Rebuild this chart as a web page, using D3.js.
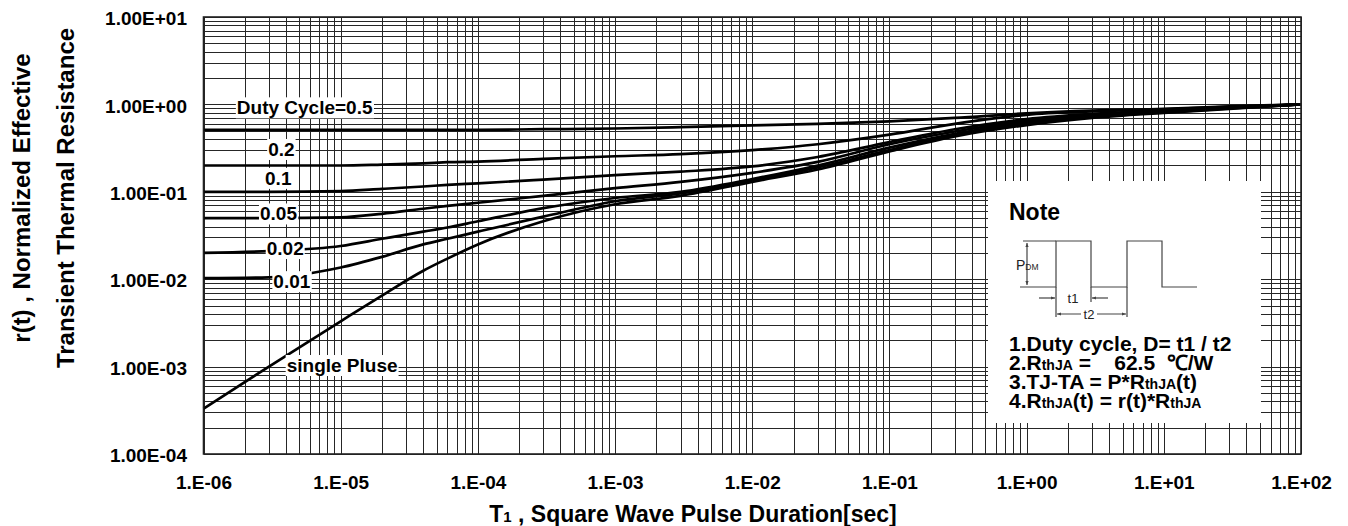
<!DOCTYPE html>
<html>
<head>
<meta charset="utf-8">
<script src="https://cdnjs.cloudflare.com/ajax/libs/d3/7.8.5/d3.min.js"></script>
<style>
html, body { margin: 0; padding: 0; background: #fff; overflow: hidden; }
text { font-family: Arial, "Liberation Sans", Helvetica, sans-serif; }
</style>
</head>
<body>
<svg width="1348" height="526"></svg>
<script>
// pulse duration (sec) where the curves were read
var pulseTimes = [1e-6, 3e-6, 1e-5, 2e-5, 4e-5, 6e-5, 1e-4, 3e-4, 1e-3, 3e-3, 1e-2, 3e-2, 1e-1, 3e-1, 1, 3, 10, 30, 100]
// r(t) for each duty cycle
var duty05  = [0.51, 0.51, 0.51, 0.51, 0.51, 0.51, 0.512, 0.52, 0.53, 0.55, 0.575, 0.60, 0.64, 0.70, 0.79, 0.85, 0.89, 0.95, 1.0]
var duty02  = [0.20, 0.20, 0.20, 0.205, 0.212, 0.218, 0.222, 0.238, 0.255, 0.27, 0.30, 0.35, 0.45, 0.60, 0.76, 0.83, 0.88, 0.94, 1.0]
var duty01  = [0.10, 0.10, 0.102, 0.108, 0.115, 0.12, 0.125, 0.138, 0.155, 0.17, 0.195, 0.25, 0.37, 0.52, 0.68, 0.78, 0.85, 0.92, 1.0]
var duty005 = [0.05, 0.05, 0.051, 0.056, 0.064, 0.069, 0.075, 0.09, 0.11, 0.13, 0.165, 0.22, 0.35, 0.49, 0.65, 0.76, 0.84, 0.91, 1.0]
var duty002 = [0.02, 0.021, 0.024, 0.029, 0.035, 0.039, 0.046, 0.065, 0.085, 0.10, 0.14, 0.20, 0.32, 0.46, 0.62, 0.74, 0.83, 0.91, 1.0]
var duty001 = [0.0103, 0.0105, 0.0136, 0.018, 0.025, 0.029, 0.035, 0.052, 0.078, 0.096, 0.135, 0.19, 0.30, 0.45, 0.60, 0.72, 0.81, 0.90, 1.0]
var singlePulse = [3.3e-4, 1.0e-3, 3.3e-3, 6.5e-3, 0.0125, 0.0172, 0.025, 0.046, 0.072, 0.09, 0.13, 0.18, 0.29, 0.43, 0.58, 0.70, 0.80, 0.89, 1.0]

// curve labels and where they sit (time, level)
var curveLabels = ["Duty Cycle=0.5", "0.2", "0.1", "0.05", "0.02", "0.01", "single Pluse"]
var labelTimes  = [1.75e-6, 2.96e-6, 2.81e-6, 2.58e-6, 2.89e-6, 3.23e-6, 4.04e-6]
var labelLevels = [0.77, 0.257, 0.12, 0.047, 0.0189, 0.0079, 8.67e-4]

// ticks
var xTickValues = [1e-6, 1e-5, 1e-4, 1e-3, 1e-2, 1e-1, 1, 10, 100]
var xTickLabels = ["1.E-06", "1.E-05", "1.E-04", "1.E-03", "1.E-02", "1.E-01", "1.E+00", "1.E+01", "1.E+02"]
var yTickValues = [1e-4, 1e-3, 1e-2, 1e-1, 1, 10]
var yTickLabels = ["1.00E-04", "1.00E-03", "1.00E-02", "1.00E-01", "1.00E+00", "1.00E+01"]

var svg = d3.select("svg")
var plot = {left: 203.5, right: 1301, top: 17, bottom: 454}

var x = d3.scaleLog().domain([1e-6, 1e2]).range([plot.left, plot.right])
var y = d3.scaleLog().domain([1e-4, 1e1]).range([plot.bottom, plot.top])

//Grid, every 1..9 of each decade
var grid = svg.append("g").attr("stroke", "#262626").attr("stroke-width", 1).attr("shape-rendering", "crispEdges")
grid.selectAll(".vx").data(x.ticks()).join("line")
    .attr("x1", d => Math.round(x(d)) + 0.5).attr("x2", d => Math.round(x(d)) + 0.5)
    .attr("y1", plot.top).attr("y2", plot.bottom)
grid.selectAll(".hy").data(y.ticks()).join("line")
    .attr("y1", d => Math.round(y(d)) + 0.5).attr("y2", d => Math.round(y(d)) + 0.5)
    .attr("x1", plot.left).attr("x2", plot.right)

//Curves
var allSeries = [duty05, duty02, duty01, duty005, duty002, duty001, singlePulse]
var line = d3.line()
    .x(d => x(d[0])).y(d => y(d[1]))
    .curve(d3.curveMonotoneX)
svg.append("g").selectAll("path").data(allSeries).join("path")
    .attr("d", s => line(d3.zip(pulseTimes, s)))
    .attr("fill", "none").attr("stroke", "#000").attr("stroke-width", 2.7)
    .attr("stroke-linejoin", "round")

//Curve labels with white backing
var labels = svg.append("g")
curveLabels.forEach(function (txt, i) {
    var g = labels.append("g")
    var t = g.append("text").text(txt)
        .attr("x", x(labelTimes[i])).attr("y", y(labelLevels[i]))
        .attr("font-size", 19).attr("font-weight", "bold")
    var bb = t.node().getBBox()
    g.insert("rect", "text").attr("x", bb.x - 1).attr("y", bb.y).attr("width", bb.width + 2).attr("height", bb.height)
        .attr("fill", "#fff")
})

//Axes
var xAxis = d3.axisBottom(x).tickValues(xTickValues).tickFormat((d, i) => xTickLabels[i]).tickSize(0).tickPadding(22)
svg.append("g").attr("transform", "translate(0," + plot.bottom + ")").call(xAxis)
    .attr("font-size", 19).attr("font-weight", "bold").attr("font-family", null)
    .call(g => g.select(".domain").remove())
var yAxis = d3.axisLeft(y).tickValues(yTickValues).tickFormat((d, i) => yTickLabels[i]).tickSize(0).tickPadding(16.5)
svg.append("g").attr("transform", "translate(" + plot.left + ",0)").call(yAxis)
    .attr("font-size", 19).attr("font-weight", "bold").attr("font-family", null)
    .call(g => g.select(".domain").remove())
    .call(g => g.selectAll("text").attr("dy", "0.4em"))

//Frame
svg.append("rect").attr("x", plot.left).attr("y", plot.top)
    .attr("width", plot.right - plot.left).attr("height", plot.bottom - plot.top)
    .attr("fill", "none").attr("stroke", "#222").attr("stroke-width", 1.6)

//Axis titles
var yTitle = svg.append("g").attr("font-size", 24).attr("font-weight", "bold").attr("text-anchor", "middle")
yTitle.append("text").text("r(t) , Normalized Effective")
    .attr("transform", "translate(30,198) rotate(-90)")
yTitle.append("text").text("Transient Thermal Resistance")
    .attr("transform", "translate(73.5,198) rotate(-90)")
var xTitle = svg.append("text").attr("x", 693).attr("y", 522)
    .attr("font-size", 23).attr("font-weight", "bold").attr("text-anchor", "middle")
xTitle.append("tspan").text("T")
xTitle.append("tspan").text("1").attr("font-size", 15)
xTitle.append("tspan").text(" , Square Wave Pulse Duration[sec]")

//Note box
var note = svg.append("g")
note.append("rect").attr("x", 988).attr("y", 181).attr("width", 273).attr("height", 242).attr("fill", "#fff")
note.append("text").text("Note").attr("x", 1009).attr("y", 220).attr("font-size", 23).attr("font-weight", "bold")

var defs = svg.append("defs")
defs.append("marker").attr("id", "arr").attr("viewBox", "0 0 10 10").attr("refX", 10).attr("refY", 5)
    .attr("markerWidth", 5).attr("markerHeight", 4).attr("orient", "auto-start-reverse").attr("markerUnits", "userSpaceOnUse")
    .append("path").attr("d", "M0,1L10,5L0,9Z").attr("fill", "#444")

var wave = note.append("g").attr("stroke", "#444").attr("stroke-width", 1.2).attr("fill", "none")
wave.append("path").attr("d", "M1020,287H1056V241H1091V287H1127V241H1162V287H1197")
wave.append("path").attr("d", "M1023,241H1056")
wave.append("line").attr("x1", 1027).attr("x2", 1027).attr("y1", 243).attr("y2", 285)
    .attr("marker-start", "url(#arr)").attr("marker-end", "url(#arr)")
wave.append("path").attr("d", "M1056,287V317M1091,287V302M1127,287V317")
wave.append("line").attr("x1", 1039).attr("x2", 1055).attr("y1", 298).attr("y2", 298).attr("marker-end", "url(#arr)")
wave.append("line").attr("x1", 1108).attr("x2", 1092).attr("y1", 298).attr("y2", 298).attr("marker-end", "url(#arr)")
wave.append("line").attr("x1", 1057).attr("x2", 1126).attr("y1", 314).attr("y2", 314)
    .attr("marker-start", "url(#arr)").attr("marker-end", "url(#arr)")
note.append("rect").attr("x", 1081).attr("y", 307).attr("width", 16).attr("height", 14).attr("fill", "#fff")
var small = note.append("g").attr("font-size", 13).attr("fill", "#222")
small.append("text").text("t1").attr("x", 1073).attr("y", 302.5).attr("text-anchor", "middle")
small.append("text").text("t2").attr("x", 1089).attr("y", 318.5).attr("text-anchor", "middle")
var pdm = small.append("text").attr("x", 1016).attr("y", 270)
pdm.append("tspan").text("P").attr("font-size", 14)
pdm.append("tspan").text("DM").attr("font-size", 8.5)

var noteLines = [
    [["1.Duty cycle, D= t1 / t2", 0]],
    [["2.R", 0], ["thJA", 1], [" =    62.5  \u2103/W", 0]],
    [["3.TJ-TA = P*R", 0], ["thJA", 1], ["(t)", 0]],
    [["4.R", 0], ["thJA", 1], ["(t) = r(t)*R", 0], ["thJA", 1]]
]
var noteBase = [351, 370, 389, 408]
noteLines.forEach(function (parts, i) {
    var t = note.append("text").attr("x", 1009).attr("y", noteBase[i])
        .attr("font-size", 21).attr("font-weight", "bold").style("white-space", "pre")
    parts.forEach(function (p) {
        t.append("tspan").text(p[0]).attr("font-size", p[1] ? 14 : 21)
    })
})
</script>
</body>
</html>
